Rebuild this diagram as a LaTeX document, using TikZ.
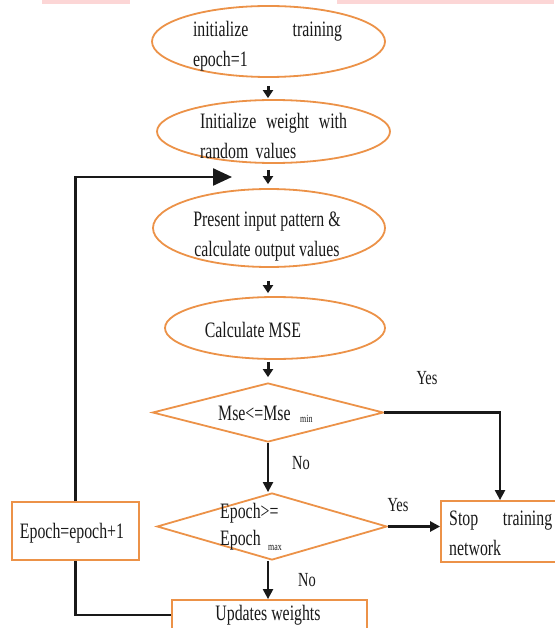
\documentclass[tikz,border=0pt]{standalone}
\usepackage{fontspec}
\setmainfont{Liberation Serif}
\newfontfamily\figfont[FakeStretch=0.72]{Liberation Serif}
\usetikzlibrary{arrows.meta,shapes.geometric,calc}
\definecolor{orng}{RGB}{236,146,72}
\definecolor{pinkbar}{RGB}{252,214,214}
\definecolor{ink}{RGB}{25,25,25}
\begin{document}
\begin{tikzpicture}[x=1pt,y=-1pt,
  oval/.style={ellipse,draw=orng,line width=1.8pt,fill=white,inner sep=0pt},
  box/.style={rectangle,draw=orng,line width=1.8pt,fill=white,inner sep=0pt},
  dia/.style={diamond,draw=orng,line width=1.8pt,fill=white,inner sep=0pt},
  txt/.style={inner sep=0pt,font=\figfont\fontsize{22}{30}\selectfont,text=ink},
  lbl/.style={inner sep=0pt,font=\figfont\fontsize{20}{24}\selectfont,text=ink},
  subs/.style={inner sep=0pt,font=\figfont\fontsize{11}{12}\selectfont,text=ink},
  flow/.style={draw=ink,line width=2.2pt,-{Triangle[length=10pt,width=10pt]}},
  small/.style={draw=ink,line width=3pt,-{Triangle[length=8pt,width=10pt]}},
  link/.style={draw=ink,line width=2.2pt},
  fbarrow/.style={draw=ink,line width=2.4pt,-{Triangle[length=19pt,width=17pt]}}
]
\useasboundingbox (0,0) rectangle (554,628);
\fill[pinkbar] (42,0) rectangle (130,4);
\fill[pinkbar] (337,0) rectangle (554,4);

\coordinate (ax) at (268,0);

% ellipses
\node[oval,minimum width=233pt,minimum height=71pt] (e1) at (268.5,41.5) {};
\node[oval,minimum width=233pt,minimum height=63pt] (e2) at (273.5,131.5) {};
\node[oval,minimum width=232pt,minimum height=78pt] (e3) at (269,228) {};
\node[oval,minimum width=220pt,minimum height=62pt] (e4) at (275,328) {};

% diamonds
\node[dia,minimum width=231pt,minimum height=59pt] (d1) at (268,412.5) {};
\node[dia,minimum width=230pt,minimum height=67pt] (d2) at (272,526.5) {};

% boxes
\node[box,minimum width=127pt,minimum height=58pt] (epoch) at (75.5,531) {};
\node[box,minimum width=118pt,minimum height=61pt] (stop) at (500,531.5) {};
\node[box,minimum width=195pt,minimum height=30pt] (upd) at (269.5,615) {};

% texts
\node[txt,text width=149pt,align=left] (t1) at (267.5,46.5) {initialize\hfill training\\epoch=1};
\node[txt,text width=147pt,align=left] (t2) at (273.5,135.5) {Initialize\hfill weight\hfill with\\random values};
\node[txt,align=center] (t3) at (267,236.5) {Present input pattern \&\\calculate output values};
\node[txt] (t4) at (253,330) {Calculate MSE};
\node[txt,anchor=west] (t5) at (218,413) {Mse<=Mse};
\node[subs,anchor=west] (t5s) at (300,419) {min};
\node[txt,anchor=west] (t6a) at (220,513) {Epoch>=};
\node[txt,anchor=west] (t6b) at (220,540) {Epoch};
\node[subs,anchor=west] (t6s) at (268,548) {max};
\node[txt,text width=103pt,align=left,anchor=west] (t7) at (449,533.5) {Stop\hfill training\\network};
\node[txt] (t8) at (72,533) {Epoch=epoch+1};
\node[txt] (t9) at (268,615) {Updates weights};

% labels
\node[lbl] (y1) at (427,378) {Yes};
\node[lbl] (n1) at (301,463) {No};
\node[lbl] (y2) at (398,505) {Yes};
\node[lbl] (n2) at (307,580) {No};

% small arrows
\draw[small,shorten <=8pt,shorten >=1pt] (e1.south -| ax) -- (e2.north -| ax);
\draw[small,shorten <=6pt,shorten >=4pt] (e2.south -| ax) -- (e3.north -| ax);
\draw[small,shorten <=13pt,shorten >=3pt] (e3.south -| ax) -- (e4.north -| ax);
\draw[small,shorten <=2pt,shorten >=5pt] (e4.south -| ax) -- (d1.north -| ax);

% flow
\draw[flow] (d1.south) -- (d1.south |- d2.north);
\draw[flow] (d1.east) -| (stop.north);
\draw[flow,line width=3pt] (d2.east) -- (d2.east -| stop.west);
\draw[flow] (d2.south -| ax) -- (ax |- upd.north);

% loop back
\coordinate (fb) at (232,177);
\draw[link] (upd.west) -| (epoch.south);
\draw[fbarrow] (epoch.north) |- (fb);
\end{tikzpicture}
\end{document}
